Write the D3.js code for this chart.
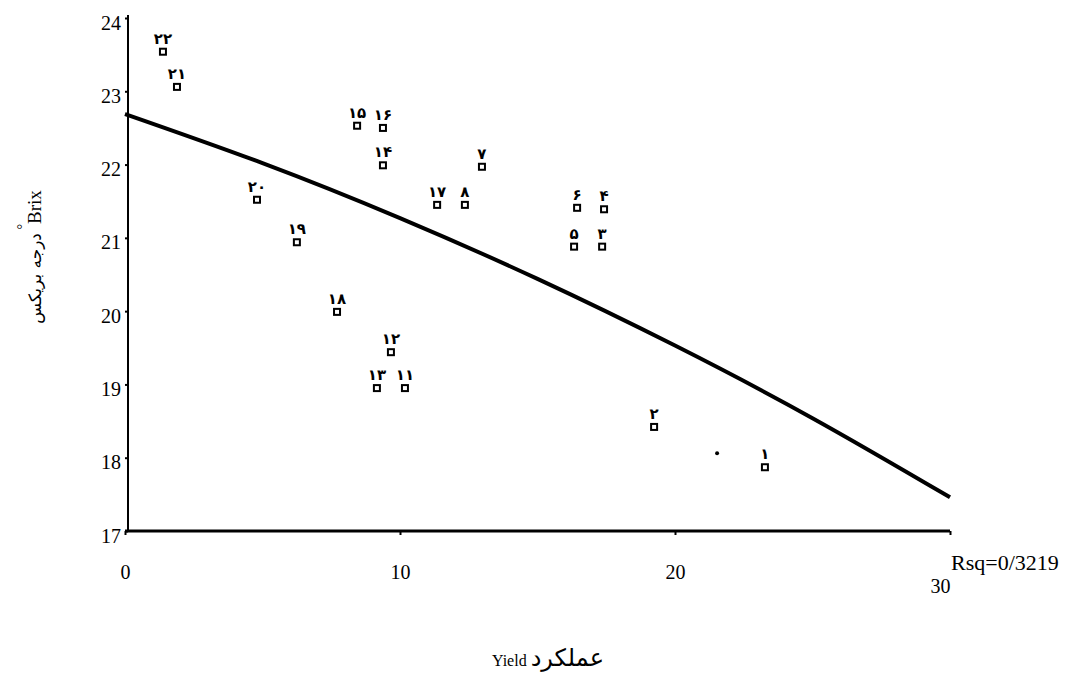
<!DOCTYPE html>
<html>
<head>
<meta charset="utf-8">
<script src="https://cdn.jsdelivr.net/npm/d3@7"></script>
<style>
  body { margin: 0; background: #fff; }
  svg { display: block; }
</style>
</head>
<body>
<svg id="chart" width="1081" height="685"></svg>
<script>
// point numbers (Persian digits), yield (x) and Brix (y)
var pointLabels = ["۱", "۲", "۳", "۴", "۵", "۶", "۷", "۸", "۱۷", "۱۱", "۱۲", "۱۳", "۱۴", "۱۵", "۱۶", "۱۸", "۱۹", "۲۰", "۲۱", "۲۲"];
var yieldVals = [23.27, 19.24, 17.35, 17.42, 16.33, 16.44, 12.98, 12.36, 11.35, 10.18, 9.67, 9.16, 9.38, 8.44, 9.38, 7.71, 6.25, 4.8, 1.89, 1.38];
var brixVals = [17.87, 18.42, 20.88, 21.39, 20.88, 21.41, 21.97, 21.45, 21.45, 18.95, 19.44, 18.95, 21.99, 22.53, 22.5, 19.99, 20.94, 21.52, 23.06, 23.54];

// a stray unlabeled point
var extraYield = [21.53];
var extraBrix = [18.06];

// fitted curve read at a few x values
var fitX = [0, 5, 10, 15, 20, 25, 30];
var fitY = [22.69, 22.02, 21.27, 20.44, 19.53, 18.54, 17.46];

var xTicks = [0, 10, 20, 30];
var yTicks = [17, 18, 19, 20, 21, 22, 23, 24];
var rsqText = "Rsq=0/3219";

var svg = d3.select("#chart");
var x = d3.scaleLinear().domain([0, 30]).range([125, 950]);
var y = d3.scaleLinear().domain([17, 24]).range([531, 18]);

var serif = "'Liberation Serif', 'DejaVu Serif', serif";

// y axis
var yAxis = svg.append("g")
  .attr("transform", "translate(128,0)")
  .call(d3.axisLeft(y).tickValues(yTicks).tickFormat(d3.format("d")).tickSize(3).tickPadding(4));
yAxis.select(".domain").attr("stroke", "#000").attr("stroke-width", 2).attr("d", "M0," + (y(24) - 3) + "V" + y(17));
yAxis.selectAll(".tick line").attr("stroke", "#000").attr("stroke-width", 2);
yAxis.selectAll(".tick text")
  .attr("font-family", serif)
  .attr("font-size", 20)
  .attr("fill", "#000")
  .attr("dy", "0.55em");

// x axis
var xAxis = svg.append("g")
  .attr("transform", "translate(0," + y(17) + ")")
  .call(d3.axisBottom(x).tickValues(xTicks).tickFormat(d3.format("d")).tickSize(4).tickPadding(30));
xAxis.select(".domain").attr("stroke", "#000").attr("stroke-width", 3).attr("d", "M" + x(0) + ",0H" + x(30));
xAxis.selectAll(".tick line").attr("stroke", "#000").attr("stroke-width", 2);
xAxis.selectAll(".tick text")
  .attr("font-family", serif)
  .attr("font-size", 20)
  .attr("fill", "#000")
  .attr("dx", function (d) { return d === 30 ? -10 : 0; })
  .attr("dy", function (d) { return d === 30 ? "1.4em" : "0.71em"; });

svg.append("text")
  .attr("x", x(30) + 1)
  .attr("y", y(17) + 39)
  .attr("font-family", serif)
  .attr("font-size", 22)
  .text(rsqText);

// fitted curve
var line = d3.line()
  .x(function (d, i) { return x(fitX[i]); })
  .y(function (d) { return y(d); })
  .curve(d3.curveNatural);
svg.append("path")
  .attr("d", line(fitY))
  .attr("fill", "none")
  .attr("stroke", "#000")
  .attr("stroke-width", 4);

// points
var pts = svg.append("g")
  .selectAll("g")
  .data(pointLabels)
  .enter()
  .append("g")
  .attr("transform", function (d, i) {
    return "translate(" + x(yieldVals[i]) + "," + y(brixVals[i]) + ")";
  });
pts.append("rect")
  .attr("x", -3)
  .attr("y", -3)
  .attr("width", 6)
  .attr("height", 6)
  .attr("fill", "#fff")
  .attr("stroke", "#000")
  .attr("stroke-width", 2);
pts.append("text")
  .attr("y", -8)
  .attr("text-anchor", "middle")
  .attr("font-family", "'DejaVu Sans', sans-serif")
  .attr("font-weight", "bold")
  .attr("font-size", 15)
  .text(function (d) { return d; });

svg.append("g")
  .selectAll("circle")
  .data(extraYield)
  .enter()
  .append("circle")
  .attr("cx", function (d) { return x(d); })
  .attr("cy", function (d, i) { return y(extraBrix[i]); })
  .attr("r", 2)
  .attr("fill", "#000");

// axis titles
var xt = svg.append("text")
  .attr("x", 548)
  .attr("y", 666)
  .attr("text-anchor", "middle")
  .attr("font-family", serif);
xt.append("tspan").attr("font-size", 16).text("Yield ");
xt.append("tspan").attr("font-size", 24).attr("font-family", "'DejaVu Sans', sans-serif").text("عملکرد");

var yt = svg.append("text")
  .attr("transform", "translate(41,257) rotate(-90)")
  .attr("text-anchor", "middle")
  .attr("font-family", serif);
yt.append("tspan").attr("font-size", 17).attr("font-family", "'DejaVu Sans', sans-serif").text("درجه بریکس");
yt.append("tspan").attr("font-size", 14).attr("dy", -14).text(" °");
yt.append("tspan").attr("font-size", 19).attr("dy", 14).text("Brix");
</script>
</body>
</html>
